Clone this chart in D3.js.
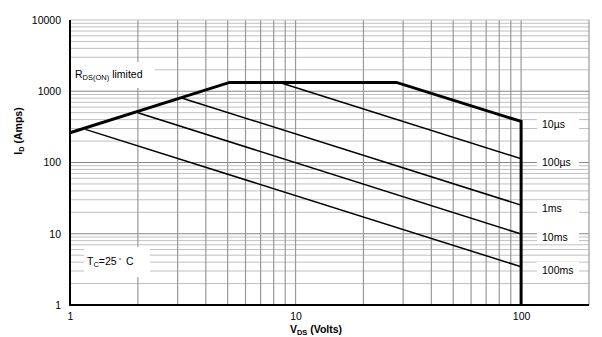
<!DOCTYPE html>
<html>
<head>
<meta charset="utf-8">
<script src="https://cdn.jsdelivr.net/npm/d3@7.9.0/dist/d3.min.js"></script>
<style>
  body { margin: 0; background: #fff; }
  svg { display: block; font-family: 'Liberation Sans', Arial, sans-serif; }
</style>
</head>
<body>
<div id="chart"></div>
<script>
// values (V in volts, I in amps)
const xTicks = [1, 10, 100];
const yTicks = [1, 10, 100, 1000, 10000];

// outer SOA boundary (bold)
const boundary = [[1, 262], [5.1, 1330], [28, 1330], [100, 377], [100, 1]];

// pulse-width lines
const pulseNames = ['100µs', '1ms', '10ms', '100ms'];
const pulseStart = [[8.5, 1330], [3.1, 812], [2, 500], [1.17, 292]];
const pulseEnd = [[100, 113], [100, 25.2], [100, 9.9], [100, 3.44]];

// labels on the right side, at the end current of each curve
const endLabels = ['10µs', '100µs', '1ms', '10ms', '100ms'];
const endValues = [377, 113, 25.2, 9.9, 3.44];

const width = 602;
const height = 337;

const svg = d3.select('#chart')
  .append('svg')
  .attr('width', width)
  .attr('height', height);

const xScale = d3.scaleLog().domain([1, 200]).range([70, 589]);
const yScale = d3.scaleLog().domain([1, 10000]).range([305, 20]);

// GRID

const xMinor = [];
for (const k of [1, 10]) {
  for (let m = 2; m <= 10; m++) xMinor.push(m * k);
}
const yMinor = [];
const yMajor = [10, 100, 1000];
for (const k of [1, 10, 100, 1000]) {
  for (let m = 2; m <= 9; m++) yMinor.push(m * k);
}

const grid = svg.append('g').attr('class', 'grid');

grid.selectAll('.hminor')
  .data(yMinor)
  .join('line')
  .attr('x1', xScale(1)).attr('x2', xScale(200))
  .attr('y1', d => yScale(d)).attr('y2', d => yScale(d))
  .attr('stroke', '#c0c0c0')
  .attr('stroke-width', 1);

grid.selectAll('.hmajor')
  .data(yMajor)
  .join('line')
  .attr('x1', xScale(1)).attr('x2', xScale(200))
  .attr('y1', d => yScale(d)).attr('y2', d => yScale(d))
  .attr('stroke', '#888')
  .attr('stroke-width', 1.2);

grid.selectAll('.vline')
  .data(xMinor)
  .join('line')
  .attr('x1', d => xScale(d)).attr('x2', d => xScale(d))
  .attr('y1', yScale(1)).attr('y2', yScale(10000))
  .attr('stroke', '#999')
  .attr('stroke-width', 1.2);

// top and right borders
svg.append('line')
  .attr('x1', xScale(1)).attr('x2', xScale(200))
  .attr('y1', yScale(10000)).attr('y2', yScale(10000))
  .attr('stroke', '#c0c0c0');
svg.append('line')
  .attr('x1', xScale(200)).attr('x2', xScale(200))
  .attr('y1', yScale(1)).attr('y2', yScale(10000))
  .attr('stroke', '#999')
  .attr('stroke-width', 1.2);

// white boxes behind the in-plot labels
svg.append('rect')
  .attr('x', 71).attr('y', 62).attr('width', 84).attr('height', 26)
  .attr('fill', '#fff');
svg.append('rect')
  .attr('x', 84).attr('y', 247).attr('width', 66).attr('height', 30)
  .attr('fill', '#fff');

svg.append('g')
  .selectAll('rect')
  .data(endValues)
  .join('rect')
  .attr('x', 537)
  .attr('y', d => yScale(d) - 5)
  .attr('width', 42)
  .attr('height', 15)
  .attr('fill', '#fff');

// AXES

svg.append('g')
  .attr('transform', `translate(${xScale(1)},0)`)
  .call(d3.axisLeft(yScale).tickValues(yTicks).tickSize(0).tickPadding(9).tickFormat(d3.format('d')))
  .call(g => g.select('.domain').remove())
  .selectAll('text')
  .attr('font-size', 10.5)
  .attr('font-family', 'Liberation Sans, Arial, sans-serif')
  .attr('fill', '#000');

svg.append('g')
  .attr('transform', `translate(0,${yScale(1)})`)
  .call(d3.axisBottom(xScale).tickValues(xTicks).tickSize(0).tickPadding(8).tickFormat(d3.format('d')))
  .call(g => g.select('.domain').remove())
  .selectAll('text')
  .attr('font-size', 10.5)
  .attr('font-family', 'Liberation Sans, Arial, sans-serif')
  .attr('fill', '#000');

svg.append('line')
  .attr('x1', xScale(1)).attr('x2', xScale(1))
  .attr('y1', yScale(1) + 1).attr('y2', yScale(10000))
  .attr('stroke', '#000').attr('stroke-width', 2);
svg.append('line')
  .attr('x1', xScale(1) - 1).attr('x2', xScale(200))
  .attr('y1', yScale(1)).attr('y2', yScale(1))
  .attr('stroke', '#000').attr('stroke-width', 2);

// CURVES

const line = d3.line()
  .x(d => xScale(d[0]))
  .y(d => yScale(d[1]));

svg.append('g')
  .selectAll('path')
  .data(pulseNames.map((name, i) => ({ name, points: [pulseStart[i], pulseEnd[i]] })))
  .join('path')
  .attr('d', d => line(d.points))
  .attr('fill', 'none')
  .attr('stroke', '#000')
  .attr('stroke-width', 1.5);

svg.append('path')
  .attr('d', line(boundary))
  .attr('fill', 'none')
  .attr('stroke', '#000')
  .attr('stroke-width', 3)
  .attr('stroke-linejoin', 'miter');

// LABELS

svg.append('g')
  .selectAll('text')
  .data(endLabels)
  .join('text')
  .attr('x', 542)
  .attr('y', (d, i) => yScale(endValues[i]) + 7)
  .attr('font-size', 10.5)
  .text(d => d);

const rds = svg.append('text')
  .attr('x', 75).attr('y', 78)
  .attr('font-size', 10.5);
rds.append('tspan').text('R');
rds.append('tspan').attr('font-size', 7.5).attr('dy', 2).text('DS(ON)');
rds.append('tspan').attr('dy', -2).text(' limited');

const tc = svg.append('text')
  .attr('x', 87).attr('y', 265)
  .attr('font-size', 10.5);
tc.append('tspan').text('T');
tc.append('tspan').attr('font-size', 7.5).attr('dy', 2).text('C');
tc.append('tspan').attr('dy', -2).text('=25');
tc.append('tspan').attr('font-size', 6).attr('dy', -3).attr('dx', 2).text('°');
tc.append('tspan').attr('dy', 3).attr('dx', 5).text('C');

const xt = svg.append('text')
  .attr('x', 316).attr('y', 333)
  .attr('text-anchor', 'middle')
  .attr('font-size', 10.5)
  .attr('font-weight', 'bold');
xt.append('tspan').text('V');
xt.append('tspan').attr('font-size', 7.5).attr('dy', 2).text('DS');
xt.append('tspan').attr('dy', -2).text(' (Volts)');

const yt = svg.append('text')
  .attr('transform', 'translate(22,131) rotate(-90)')
  .attr('text-anchor', 'middle')
  .attr('font-size', 10.5)
  .attr('font-weight', 'bold');
yt.append('tspan').text('I');
yt.append('tspan').attr('font-size', 7.5).attr('dy', 2).text('D');
yt.append('tspan').attr('dy', -2).text(' (Amps)');
</script>
</body>
</html>
